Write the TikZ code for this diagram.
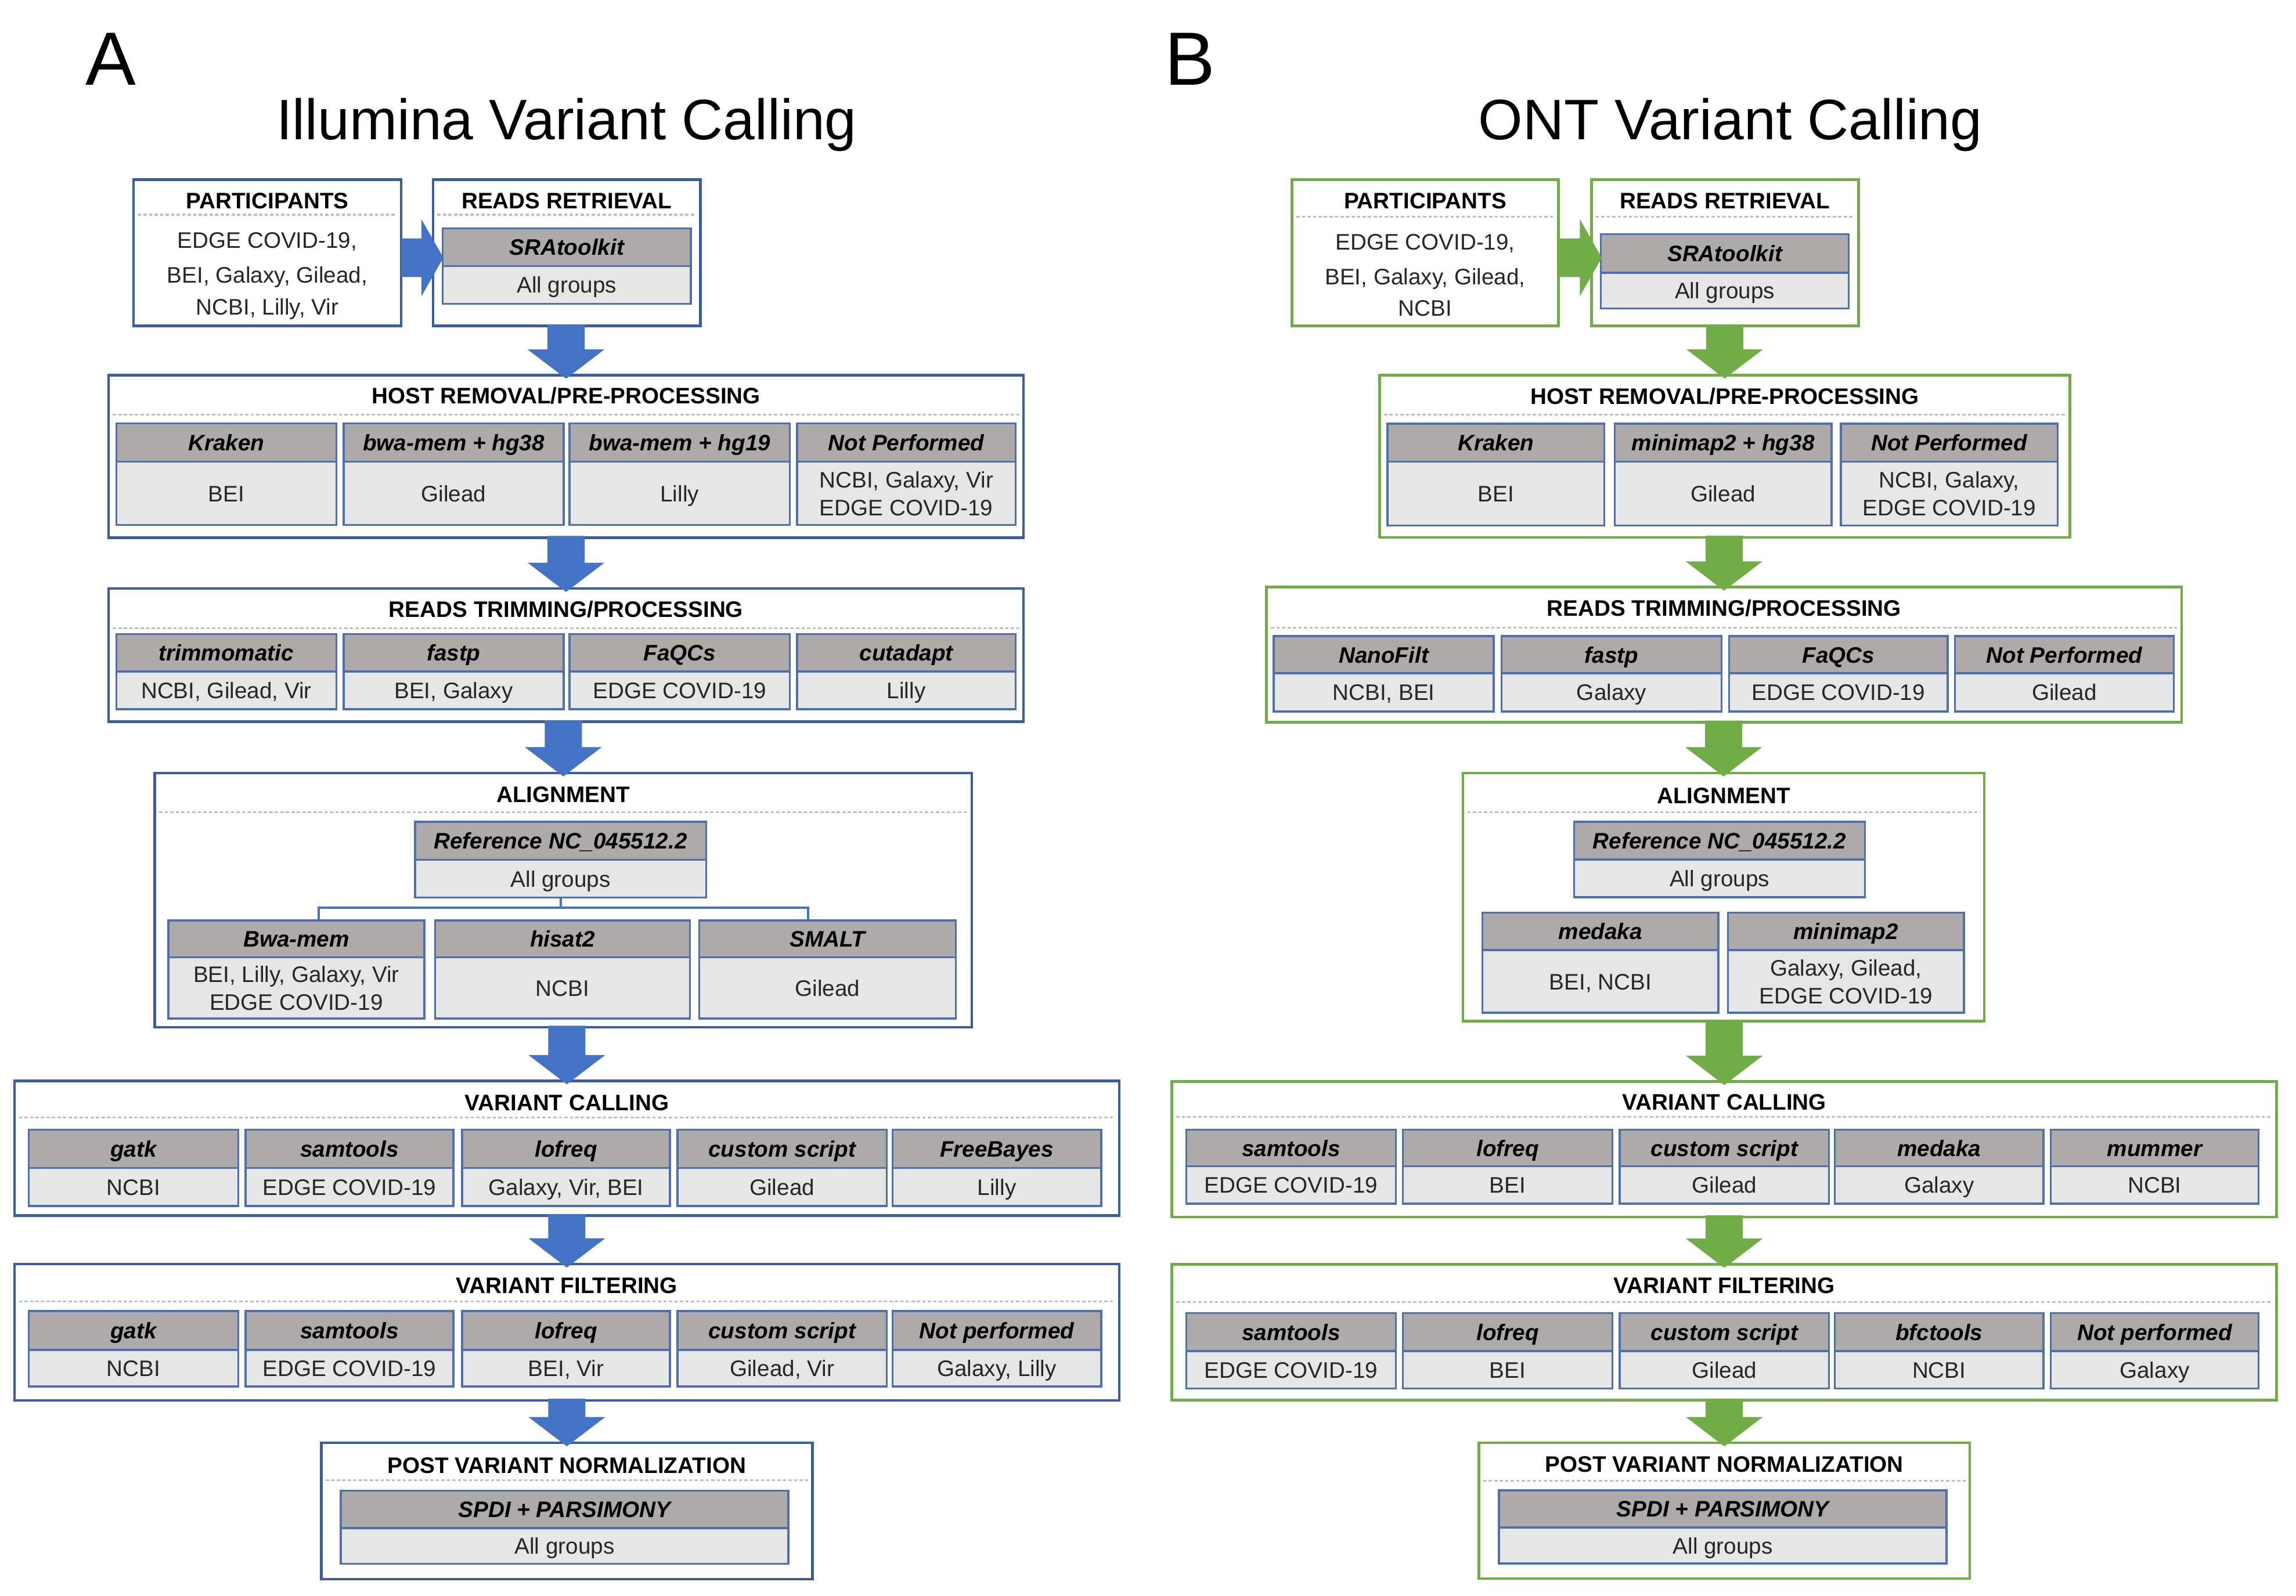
\documentclass[tikz,border=0pt]{standalone}
\usepackage{fontspec}
\setmainfont{Liberation Sans}
\usetikzlibrary{fit,calc}
\definecolor{bArrow}{HTML}{4472C4}
\definecolor{bBorder}{HTML}{3A5DA0}
\definecolor{cBorder}{HTML}{4F6FAD}
\definecolor{gGreen}{HTML}{70AD47}
\definecolor{hdrFill}{HTML}{AEAAAA}
\definecolor{bodyFill}{HTML}{E7E6E6}
\definecolor{dashGray}{HTML}{BFBFBF}
\definecolor{bodyText}{HTML}{262626}
\tikzset{
  stageA/.style={draw=bBorder, line width=1.3pt, fill=white, inner sep=0pt},
  stageB/.style={draw=gGreen, line width=1.3pt, fill=white, inner sep=0pt},
  hcell/.style={draw=cBorder, line width=1pt, fill=hdrFill, inner sep=0pt},
  bcell/.style={draw=cBorder, line width=1pt, fill=bodyFill, inner sep=0pt},
  ttl/.style={font=\fontsize{11}{13}\selectfont\bfseries, text height=8pt, text depth=0pt, inner sep=0pt},
  htxt/.style={font=\fontsize{11}{13}\selectfont\bfseries\itshape, text height=8pt, text depth=0pt, inner sep=0pt},
  btxt/.style={font=\fontsize{11}{13}\selectfont, text=bodyText, text height=8pt, text depth=0pt, inner sep=0pt},
  dashln/.style={draw=dashGray, line width=0.9pt, dash pattern=on 1.6pt off 1.1pt},
  bconn/.style={draw=bArrow, line width=1.1pt},
  bigttl/.style={font=\fontsize{28}{32}\selectfont, anchor=base, inner sep=0pt},
  panel/.style={font=\fontsize{37}{40}\selectfont, anchor=base, inner sep=0pt},
}
\newcommand\stage[9]{%
  \node[#9, fit={(#2,#3)(#4,#5)}] (#1) {};
  \node[ttl] (#1t) at ({(#2+#4)/2},#7) {#6};
  \draw[dashln] ({#2+3},#8) -- ({#4-3},#8);
}
\newcommand\cell[8]{%
  \node[hcell, fit={(#2,#4)(#3,#5)}] (#1h) {};
  \node[bcell, fit={(#2,#5)(#3,#6)}] (#1b) {};
  \node[htxt] (#1ht) at (#1h.center) {#7};
  \node[btxt] (#1bt) at (#1b.center) {#8};
}
\newcommand\cellii[9]{%
  \node[hcell, fit={(#2,#4)(#3,#5)}] (#1h) {};
  \node[bcell, fit={(#2,#5)(#3,#6)}] (#1b) {};
  \node[htxt] (#1ht) at (#1h.center) {#7};
  \node[btxt] (#1bt) at ($(#1b.center)+(0,-9.5)$) {#8};
  \node[btxt] (#1bu) at ($(#1b.center)+(0,9.5)$) {#9};
}
\newcommand\vflow[3]{%
  \fill[#1] ($(#2.south -| #3.north)+(-12.7,-2)$) -- ($(#3.north)+(-12.7,-16.7)$)
    -- ($(#3.north)+(-26.2,-16.7)$) -- ($(#3.north)+(0,3.3)$)
    -- ($(#3.north)+(26.2,-16.7)$) -- ($(#3.north)+(12.7,-16.7)$)
    -- ($(#2.south -| #3.north)+(12.7,-2)$) -- cycle;
}
\newcommand\hflow[3]{%
  \coordinate (#2hE) at ($(#2.east)+(0,3.4)$);
  \coordinate (#2hW) at (#3.west |- #2hE);
  \fill[#1] ($(#2hE)+(-1,-13.2)$) -- ($(#2hW)+(-7,-13.2)$) -- ($(#2hW)+(-7,-26.3)$)
    -- ($(#2hW)+(8,0)$) -- ($(#2hW)+(-7,26.3)$) -- ($(#2hW)+(-7,13.2)$)
    -- ($(#2hE)+(-1,13.2)$) -- cycle;
}
\begin{document}
\begin{tikzpicture}[x=0.025223cm, y=-0.025223cm]
\useasboundingbox (0,0) rectangle (1568,1090);
\fill[white] (0,0) rectangle (1568,1090);

% ================= PANEL A =================
\node[panel] (labA) at (75.7,58) {A};
\node[bigttl] (ttlA) at (387,95.2) {Illumina Variant Calling};

\stage{aPart}{91.2}{122.6}{274}{222.7}{PARTICIPANTS}{136.8}{146.7}{stageA}
\node[btxt] (aP1) at (182.6,163.9) {EDGE COVID-19,};
\node[btxt] (aP2) at (182.6,187.7) {BEI, Galaxy, Gilead,};
\node[btxt] (aP3) at (182.6,209.5) {NCBI, Lilly, Vir};
\stage{aRead}{295.7}{122.6}{478.4}{222.7}{READS RETRIEVAL}{136.8}{146.7}{stageA}
\cell{aSra}{302.3}{471.8}{156}{181.7}{207.5}{SRAtoolkit}{All groups}

\stage{aHost}{74.1}{256.3}{699}{367.2}{HOST REMOVAL/PRE-PROCESSING}{270}{283.4}{stageA}
\cell{aH1}{79.5}{229.7}{289.2}{315.4}{358.6}{Kraken}{BEI}
\cell{aH2}{234.7}{384.9}{289.2}{315.4}{358.6}{bwa-mem + hg38}{Gilead}
\cell{aH3}{389}{539.3}{289.2}{315.4}{358.6}{bwa-mem + hg19}{Lilly}
\cellii{aH4}{544.3}{693.6}{289.2}{315.4}{358.6}{Not Performed}{NCBI, Galaxy, Vir}{EDGE COVID-19}

\stage{aTrim}{74.1}{402}{699}{493}{READS TRIMMING/PROCESSING}{416.1}{429}{stageA}
\cell{aT1}{79.5}{229.7}{433.2}{458.6}{484.5}{trimmomatic}{NCBI, Gilead, Vir}
\cell{aT2}{234.7}{384.9}{433.2}{458.6}{484.5}{fastp}{BEI, Galaxy}
\cell{aT3}{389}{539.3}{433.2}{458.6}{484.5}{FaQCs}{EDGE COVID-19}
\cell{aT4}{544.3}{693.6}{433.2}{458.6}{484.5}{cutadapt}{Lilly}

\stage{aAlign}{105.7}{528}{663.7}{701.8}{ALIGNMENT}{542.5}{554.8}{stageA}
\cell{aRef}{283.5}{482.2}{561.4}{587.4}{613.2}{Reference NC\_045512.2}{All groups}
\cellii{aAl1}{114.9}{289.8}{628.8}{654}{695.8}{Bwa-mem}{BEI, Lilly, Galaxy, Vir}{EDGE COVID-19}
\cell{aAl2}{297.1}{471.2}{628.8}{654}{695.8}{hisat2}{NCBI}
\cell{aAl3}{477.5}{652.7}{628.8}{654}{695.8}{SMALT}{Gilead}
\coordinate (aBr) at ($(aRefb.south)+(0,6.2)$);
\draw[bconn] (aRefb.south) -- (aBr) -| ($(aAl1h.north)+(15.2,0)$);
\draw[bconn] (aBr) -| ($(aAl3h.north)+(-13.2,0)$);

\stage{aVC}{9.9}{738.3}{764.3}{830.4}{VARIANT CALLING}{753}{763.4}{stageA}
\cell{aC1}{19.7}{162.7}{771.6}{797.9}{823.9}{gatk}{NCBI}
\cell{aC2}{167.7}{309.6}{771.6}{797.9}{823.9}{samtools}{EDGE COVID-19}
\cell{aC3}{315.6}{457.5}{771.6}{797.9}{823.9}{lofreq}{Galaxy, Vir, BEI}
\cell{aC4}{462.6}{605.6}{771.6}{797.9}{823.9}{custom script}{Gilead}
\cell{aC5}{609.5}{752}{771.6}{797.9}{823.9}{FreeBayes}{Lilly}

\stage{aVF}{9.9}{863.5}{764.3}{956.6}{VARIANT FILTERING}{878}{889}{stageA}
\cell{aF1}{19.7}{162.7}{895.6}{922.1}{947.2}{gatk}{NCBI}
\cell{aF2}{167.7}{309.6}{895.6}{922.1}{947.2}{samtools}{EDGE COVID-19}
\cell{aF3}{315.6}{457.5}{895.6}{922.1}{947.2}{lofreq}{BEI, Vir}
\cell{aF4}{462.6}{605.6}{895.6}{922.1}{947.2}{custom script}{Gilead, Vir}
\cell{aF5}{609.5}{752}{895.6}{922.1}{947.2}{Not performed}{Galaxy, Lilly}

\stage{aPost}{219.4}{985.6}{554.8}{1078.7}{POST VARIANT NORMALIZATION}{1000.7}{1011.2}{stageA}
\cell{aSp}{232.7}{538.4}{1018.2}{1043.8}{1068.2}{SPDI + PARSIMONY}{All groups}

\hflow{bArrow}{aPart}{aRead}
\vflow{bArrow}{aRead}{aHost}
\vflow{bArrow}{aHost}{aTrim}
\vflow{bArrow}{aTrim}{aAlign}
\vflow{bArrow}{aAlign}{aVC}
\vflow{bArrow}{aVC}{aVF}
\vflow{bArrow}{aVF}{aPost}

% ================= PANEL B =================
\node[panel] (labB) at (812.5,58) {B};
\node[bigttl] (ttlB) at (1181.7,95.2) {ONT Variant Calling};

\stage{bPart}{882.3}{122.6}{1064.3}{222.7}{PARTICIPANTS}{136.8}{148}{stageB}
\node[btxt] (bP1) at (973.3,165.2) {EDGE COVID-19,};
\node[btxt] (bP2) at (973.3,189) {BEI, Galaxy, Gilead,};
\node[btxt] (bP3) at (973.3,210.1) {NCBI};
\stage{bRead}{1086.8}{122.6}{1269.2}{222.7}{READS RETRIEVAL}{136.8}{148}{stageB}
\cell{bSra}{1093.2}{1262.6}{159.9}{186.3}{210.8}{SRAtoolkit}{All groups}

\stage{bHost}{942.1}{256.2}{1413.5}{367.1}{HOST REMOVAL/PRE-PROCESSING}{270.5}{283.4}{stageB}
\cell{bH1}{947.5}{1095.6}{289.4}{315.3}{359}{Kraken}{BEI}
\cell{bH2}{1102.7}{1250.8}{289.4}{315.3}{359}{minimap2 + hg38}{Gilead}
\cellii{bH3}{1257.1}{1405.2}{289.4}{315.3}{359}{Not Performed}{NCBI, Galaxy,}{EDGE COVID-19}

\stage{bTrim}{864.9}{401.1}{1489.9}{493.3}{READS TRIMMING/PROCESSING}{415.2}{428.6}{stageB}
\cell{bT1}{869.9}{1020.1}{434.6}{459.8}{486}{NanoFilt}{NCBI, BEI}
\cell{bT2}{1025.5}{1175.7}{434.6}{459.8}{486}{fastp}{Galaxy}
\cell{bT3}{1180.8}{1330.1}{434.6}{459.8}{486}{FaQCs}{EDGE COVID-19}
\cell{bT4}{1335.1}{1484.5}{434.6}{459.8}{486}{Not Performed}{Gilead}

\stage{bAlign}{999.1}{528}{1355.1}{697.6}{ALIGNMENT}{543.2}{554.9}{stageB}
\cell{bRef}{1075}{1273.7}{561.4}{587.1}{613}{Reference NC\_045512.2}{All groups}
\cell{bAl1}{1012.4}{1173.6}{623.5}{649}{691.9}{medaka}{BEI, NCBI}
\cellii{bAl2}{1180}{1341.3}{623.5}{649}{691.9}{minimap2}{Galaxy, Gilead,}{EDGE COVID-19}

\stage{bVC}{800.3}{738.8}{1554.8}{831.3}{VARIANT CALLING}{752.8}{763}{stageB}
\cell{bC1}{810.2}{953.2}{771.7}{796.7}{822.2}{samtools}{EDGE COVID-19}
\cell{bC2}{958.1}{1101.2}{771.7}{796.7}{822.2}{lofreq}{BEI}
\cell{bC3}{1106.1}{1249.1}{771.7}{796.7}{822.2}{custom script}{Gilead}
\cell{bC4}{1253}{1395.5}{771.7}{796.7}{822.2}{medaka}{Galaxy}
\cell{bC5}{1400.4}{1542.5}{771.7}{796.7}{822.2}{mummer}{NCBI}

\stage{bVF}{800.3}{863.7}{1554.8}{956.5}{VARIANT FILTERING}{878}{889.3}{stageB}
\cell{bF1}{810.2}{953.2}{896.9}{923}{948.5}{samtools}{EDGE COVID-19}
\cell{bF2}{958.1}{1101.2}{896.9}{923}{948.5}{lofreq}{BEI}
\cell{bF3}{1106.1}{1249.1}{896.9}{923}{948.5}{custom script}{Gilead}
\cell{bF4}{1253}{1395.5}{896.9}{923}{948.5}{bfctools}{NCBI}
\cell{bF5}{1400.4}{1542.5}{896.9}{923}{948.5}{Not performed}{Galaxy}

\stage{bPost}{1009.9}{985.6}{1345.2}{1078.3}{POST VARIANT NORMALIZATION}{1000.2}{1011.6}{stageB}
\cell{bSp}{1023.7}{1329.4}{1018}{1043.5}{1068}{SPDI + PARSIMONY}{All groups}

\hflow{gGreen}{bPart}{bRead}
\vflow{gGreen}{bRead}{bHost}
\vflow{gGreen}{bHost}{bTrim}
\vflow{gGreen}{bTrim}{bAlign}
\vflow{gGreen}{bAlign}{bVC}
\vflow{gGreen}{bVC}{bVF}
\vflow{gGreen}{bVF}{bPost}
\end{tikzpicture}
\end{document}
